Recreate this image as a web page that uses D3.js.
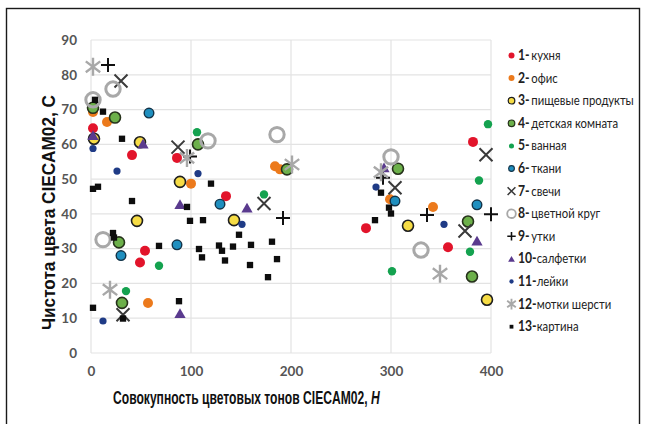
<!DOCTYPE html>
<html>
<head>
<meta charset="utf-8">
<script src="https://cdn.jsdelivr.net/npm/d3@7"></script>
<style>
  html, body { margin: 0; padding: 0; background: #fff; }
  svg { display: block; }
</style>
</head>
<body>
<svg id="chart" width="645" height="424"></svg>
<script>
// Hue (H) and chroma (C) pairs, CIECAM02, one array per scene
const kitchen   = [[2,64.6],[41,56.9],[86,56.1],[54,29.4],[49,26],[135,45.1],[382,60.7],[275,35.9],[357,30.4]];
const office    = [[2,69.3],[16,66.4],[100,48.7],[57,14.4],[184,53.7],[189,52.8],[299,44.2],[342,42]];
const food      = [[3,61.6],[49,60.6],[89,49.2],[46,38],[143,38.2],[317,36.6],[396,15.3]];
const nursery   = [[2,70.5],[24,67.7],[107,60],[28,31.8],[31,14.4],[196,52.8],[307,53],[377,37.8],[381,22]];
const bathroom  = [[106,63.5],[68,25.1],[35,17.8],[173,45.6],[397,65.8],[388,49.6],[301,23.5],[379,29.1]];
const fabrics   = [[58,69],[129,42.8],[86,31.1],[30,28],[304,43.7],[386,42.6]];
const candles   = [[30,78.2],[87,59.2],[32,11],[173,43],[395,57],[304,47.5],[374,35.1]];
const colorWheel= [[22,75.9],[2,72.8],[117,61],[12,32.6],[186,62.8],[300,56.4],[330,29.6]];
const ducks     = [[17,82.8],[99,56.5],[192,38.8],[336,39.7],[400,39.9],[292,50.4]];
const napkins   = [[2,62.5],[52,60],[89,42.6],[89,11.3],[156,41.6],[293,53.2],[386,32.1]];
const cans      = [[2,58.8],[26,52.3],[107,51.6],[12,9.2],[151,37],[285,47.7],[353,37]];
const yarn      = [[2,82.3],[96,56.1],[19,18.2],[201,54.2],[349,22.8],[290,52]];
const painting  = [[4,72.8],[12,69.4],[31,61.6],[2,47.2],[7,47.8],[41,43.7],[120,48.7],[96,42],[99,38],
                   [112,38.2],[22,34.5],[23,33.2],[68,30.8],[108,29.9],[111,27.5],[2,13],[88,14.9],[32,9.9],
                   [148,34],[128,30.9],[131,29.4],[142,30.6],[134,26.6],[160,31.1],[159,25.3],[181,32],
                   [186,27],[177,21.8],[290,46.1],[298,41.8],[300,40.1],[284,38.2]];

const seriesNames = ["кухня","офис","пищевые продукты","детская комната","ванная","ткани","свечи",
                     "цветной круг","утки","салфетки","лейки","мотки шерсти","картина"];
const xTicks = [0,100,200,300,400];
const yTicks = [0,10,20,30,40,50,60,70,80,90];

// marker style for each series, in legend order
const styles = [
  {type:"circle", r:5,   fill:"#e2142b", stroke:"none"},
  {type:"circle", r:5,   fill:"#ec7a1c", stroke:"none"},
  {type:"circle", r:5.5, fill:"#f6dc45", stroke:"#1e1e1e", sw:1.6},
  {type:"circle", r:5.5, fill:"#6cb04a", stroke:"#26321b", sw:1.6},
  {type:"circle", r:4.2, fill:"#14a24f", stroke:"none"},
  {type:"circle", r:4.8, fill:"#1f8fbf", stroke:"#123247", sw:1.4},
  {type:"x",      s:6.5, stroke:"#3a3a3a", sw:2},
  {type:"ring",   r:7.2, stroke:"#a8a8a8", sw:3},
  {type:"plus",   s:7,   stroke:"#111", sw:2},
  {type:"tri",    size:55, fill:"#5a3a8e"},
  {type:"circle", r:3.6, fill:"#1f3b86", stroke:"none"},
  {type:"star",   s:9,   stroke:"#a8a8a8", sw:2.4},
  {type:"square", size:40, fill:"#0d0d0d"}
];
const data = [kitchen, office, food, nursery, bathroom, fabrics, candles, colorWheel, ducks, napkins, cans, yarn, painting];

const svg = d3.select("#chart");
svg.append("rect").attr("width",645).attr("height",424).attr("fill","#fff");
// outer frame
svg.append("rect").attr("x",6.5).attr("y",8.5).attr("width",633).attr("height",440)
   .attr("fill","none").attr("stroke","#1a1a1a").attr("stroke-width",1.4);

const x = d3.scaleLinear().domain([0,400]).range([91,491]);
const y = d3.scaleLinear().domain([0,90]).range([353,40]);

// gridlines
svg.append("g").selectAll("line").data(yTicks).join("line")
  .attr("x1",x(0)).attr("x2",x(400)).attr("y1",d=>y(d)).attr("y2",d=>y(d))
  .attr("stroke","#e3e3e3").attr("stroke-width",1.2);
svg.append("g").selectAll("line").data(xTicks).join("line")
  .attr("y1",y(0)).attr("y2",y(90)).attr("x1",d=>x(d)).attr("x2",d=>x(d))
  .attr("stroke","#e3e3e3").attr("stroke-width",1.2);

// axes (labels only)
const tickFont = "Lato, 'Open Sans', sans-serif";
const xAxis = svg.append("g").attr("transform",`translate(0,${y(0)})`)
  .call(d3.axisBottom(x).tickValues(xTicks).tickSize(0).tickPadding(13).tickFormat(d3.format("d")));
const yAxis = svg.append("g").attr("transform",`translate(${x(0)},0)`)
  .call(d3.axisLeft(y).tickValues(yTicks).tickSize(0).tickPadding(14).tickFormat(d3.format("d")));
[xAxis,yAxis].forEach(g=>{
  g.select(".domain").remove();
  g.selectAll("text").attr("font-family",tickFont).attr("font-weight","bold")
   .attr("font-size",13.5).attr("fill","#555");
});

// axis titles in a condensed bold face: measure, then squeeze to the wanted width
const titleFont = "'Liberation Sans',Arial,sans-serif";
function squeeze(sel, width, tx, ty, rot) {
  const w = sel.node().getComputedTextLength();
  sel.attr("transform",`translate(${tx},${ty})${rot?" rotate(-90)":""} scale(${width/w},1)`);
}
const xt = svg.append("text")
  .attr("font-family",titleFont).attr("font-weight","bold").attr("font-size",18.5).attr("fill","#111");
xt.append("tspan").text("Совокупность цветовых тонов CIECAM02, ");
xt.append("tspan").attr("font-style","italic").text("H");
squeeze(xt, 267, 113, 404, false);

const yt = svg.append("text")
  .attr("font-family",titleFont).attr("font-weight","bold").attr("font-size",18.5).attr("fill","#111")
  .text("Чистота цвета CIECAM02, C");
squeeze(yt, 235, 55, 330, true);

// draw one marker into a group at (cx, cy)
function marker(g, st, cx, cy, k) {
  k = k || 1;
  if (st.type === "circle") {
    g.append("circle").attr("cx",cx).attr("cy",cy).attr("r",st.r*k)
     .attr("fill",st.fill).attr("stroke",st.stroke).attr("stroke-width",(st.sw||0)*Math.sqrt(k));
  } else if (st.type === "ring") {
    g.append("circle").attr("cx",cx).attr("cy",cy).attr("r",st.r*k)
     .attr("fill","none").attr("stroke",st.stroke).attr("stroke-width",st.sw*k);
  } else if (st.type === "x") {
    const s = st.s*k;
    g.append("path").attr("d",`M${cx-s},${cy-s}L${cx+s},${cy+s}M${cx-s},${cy+s}L${cx+s},${cy-s}`)
     .attr("stroke",st.stroke).attr("stroke-width",st.sw*Math.sqrt(k)).attr("fill","none");
  } else if (st.type === "plus") {
    const s = st.s*k;
    g.append("path").attr("d",`M${cx-s},${cy}L${cx+s},${cy}M${cx},${cy-s}L${cx},${cy+s}`)
     .attr("stroke",st.stroke).attr("stroke-width",st.sw*Math.sqrt(k)).attr("fill","none");
  } else if (st.type === "star") {
    const s = st.s*k, d = s*0.8;
    g.append("path").attr("d",`M${cx},${cy-s}L${cx},${cy+s}M${cx-d},${cy-d*0.75}L${cx+d},${cy+d*0.75}M${cx-d},${cy+d*0.75}L${cx+d},${cy-d*0.75}`)
     .attr("stroke",st.stroke).attr("stroke-width",st.sw*Math.sqrt(k)).attr("fill","none");
  } else if (st.type === "tri") {
    g.append("path").attr("transform",`translate(${cx},${cy+1})`)
     .attr("d",d3.symbol(d3.symbolTriangle, st.size*k*k)()).attr("fill",st.fill);
  } else if (st.type === "square") {
    g.append("path").attr("transform",`translate(${cx},${cy})`)
     .attr("d",d3.symbol(d3.symbolSquare, st.size*k*k)()).attr("fill",st.fill);
  }
}

// scatter points, series drawn in order so later ones sit on top
const plot = svg.append("g");
data.forEach((pts,i)=>{
  const g = plot.append("g");
  pts.forEach(p=>marker(g, styles[i], x(p[0]), y(p[1])));
});

// legend, text squeezed horizontally like a narrow UI face
const legend = svg.append("g");
seriesNames.forEach((name,i)=>{
  const ly = 55.5 + i*22.6;
  const g = legend.append("g");
  marker(g, styles[i], 511.5, ly, 0.6);
  const t = g.append("text").attr("transform",`translate(518,${ly+4.5}) scale(0.84,1)`)
    .attr("font-family",tickFont).attr("font-size",13.5).attr("fill","#222");
  t.append("tspan").attr("font-weight","bold").attr("font-size",14.5).text(`${i+1}-`);
  t.append("tspan").attr("dx",i>=9?0:2).text(name);
});
</script>
</body>
</html>
